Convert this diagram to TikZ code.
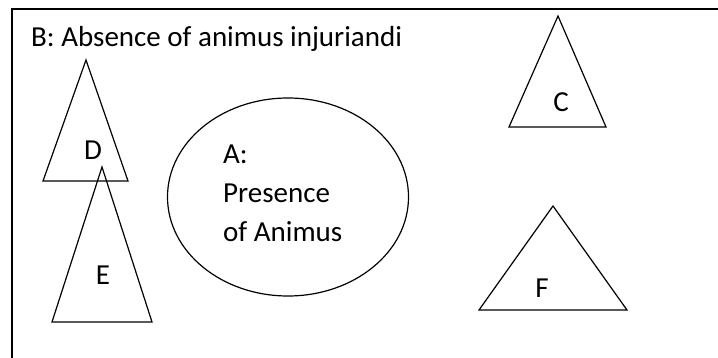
\documentclass[tikz,border=0pt]{standalone}
\usepackage{fontspec}
\setmainfont{Carlito}
\usetikzlibrary{shapes.geometric}

\begin{document}
\begin{tikzpicture}[x=1pt, y=-1pt,
    outline/.style={draw, line width=1.2pt},
    lbl/.style={font=\fontsize{29}{39}\selectfont, inner sep=0pt}]
  \useasboundingbox (0,0) rectangle (718,358);
  % frame, only top and left edges visible
  \draw[line width=1.8pt] (718,9) -- (12,9) -- (12,358);
  \node[lbl, anchor=base west] (title) at (31,47) {B: Absence of animus injuriandi};
  % A: the ellipse
  \node[outline, ellipse, minimum width=241, minimum height=198] (A) at (288,197) {};
  \node[lbl, anchor=north west, align=left] (Atext) at (223,145) {A:\\Presence\\of Animus};
  % the triangles
  \draw[outline] (86,60) -- (128,181) -- (43,181) -- cycle;
  \node[lbl] (D) at (93,150) {D};
  \draw[outline] (102,167) -- (152,322) -- (52,322) -- cycle;
  \node[lbl] (E) at (103,275) {E};
  \draw[outline] (558,16) -- (606,127) -- (509,127) -- cycle;
  \node[lbl] (C) at (561,102) {C};
  \draw[outline] (553,206) -- (627,310) -- (479,310) -- cycle;
  \node[lbl] (F) at (542,288) {F};
\end{tikzpicture}
\end{document}
